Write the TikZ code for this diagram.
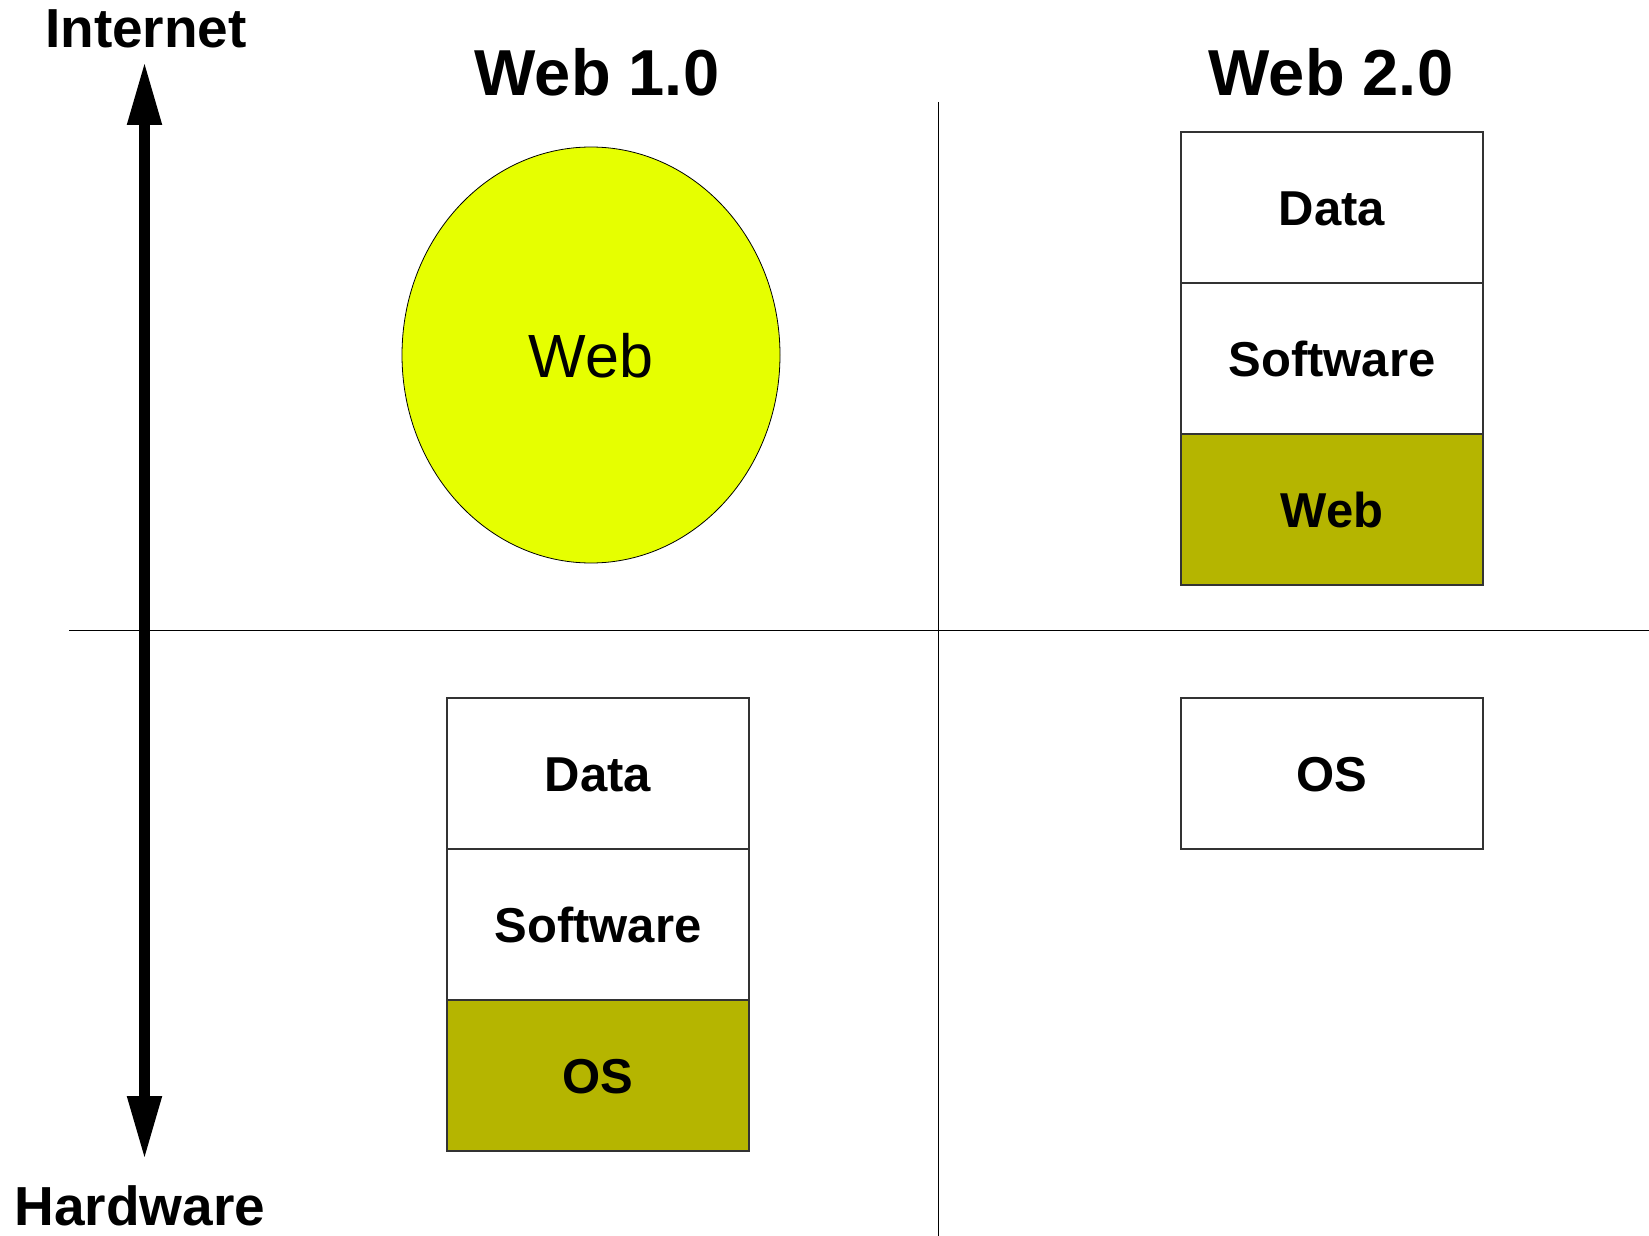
\documentclass[tikz,border=0pt]{standalone}
\usepackage{fontspec}
\setmainfont{Liberation Sans}
\usepackage{tikz}
\usetikzlibrary{arrows.meta,positioning,shapes.geometric}

\definecolor{webyellow}{RGB}{230,255,0}
\definecolor{olive}{RGB}{181,181,0}
\definecolor{edge}{RGB}{51,51,51}

\begin{document}
\begin{tikzpicture}[x=1pt,y=-1pt]
	\tikzstyle{every node}+=[inner sep=0pt, outer sep=0pt]
	\tikzstyle{layer}=[draw=edge, line width=1.3pt, fill=white, minimum width=302pt, minimum height=151pt,
		font=\fontsize{49}{59}\selectfont\bfseries, text height=35pt, text depth=0pt]
	\tikzstyle{base}=[layer, fill=olive]
	\tikzstyle{title}=[anchor=base, font=\fontsize{65}{78}\selectfont\bfseries]
	\tikzstyle{tag}=[anchor=base, font=\fontsize{55}{66}\selectfont\bfseries]
	\tikzstyle{axis}=[line width=11pt, {Triangle[length=64pt, width=32pt]}-{Triangle[length=64pt, width=32pt]}]
	\useasboundingbox (0,0) rectangle (1649,1236);
	% quadrants
	\draw [black, line width=1pt] (938,102) -- (938,1236);
	\draw [black, line width=1pt] (69,630.5) -- (1649,630.5);
	% vertical scale
	\node [tag] (internet) at (146,48) {Internet};
	\node [tag] (hardware) at (140,1225) {Hardware};
	\coordinate (up) at (144.5,61);
	\coordinate (down) at (144.5,1160);
	\draw [axis] (down) -- (up);
	% titles
	\node [title] (web1) at (597,96) {Web 1.0};
	\node [title] (web2) at (1331,96) {Web 2.0};
	% Web 1.0
	\node [ellipse, draw=black, line width=0.8pt, fill=webyellow, minimum width=378pt, minimum height=416pt,
		font=\fontsize{61}{72}\selectfont, text height=44pt, text depth=0pt] (cloud) at (591,355) {Web};
	\node [layer] (data1) at (598,773.5) {Data};
	\node [layer, below=0pt of data1] (soft1) {Software};
	\node [base, below=0pt of soft1] (os1) {OS};
	% Web 2.0
	\node [layer] (data2) at (1332,207.5) {Data};
	\node [layer, below=0pt of data2] (soft2) {Software};
	\node [base, below=0pt of soft2] (web) {Web};
	\node [layer] (os2) at (1332,773.5) {OS};
\end{tikzpicture}
\end{document}
